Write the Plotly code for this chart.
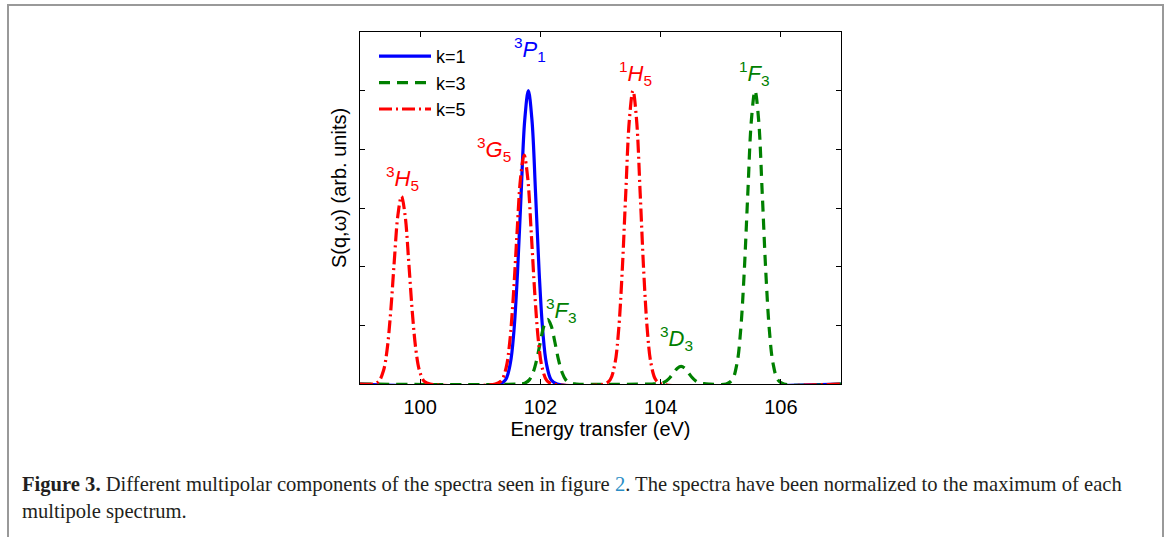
import plotly.graph_objects as go

# ---- data (energy in eV, normalized intensity) ----
k1_x = [99.0, 101.32, 101.42, 101.50, 101.56, 101.62, 101.68, 101.74, 101.80, 101.86, 101.92,
        101.98, 102.04, 102.10, 102.18, 102.28, 107.0]
k1_y = [0, 0, 0.014, 0.07, 0.18, 0.38, 0.65, 0.90, 1.0, 0.90, 0.65,
        0.38, 0.18, 0.07, 0.014, 0, 0]

k3_x = [99.0,
        101.64, 101.74, 101.82, 101.88, 101.94, 102.00, 102.06, 102.12, 102.18, 102.24,
        102.30, 102.36, 102.42, 102.50, 102.60,
        103.86, 103.96, 104.04, 104.10, 104.16, 104.22, 104.28, 104.34, 104.40, 104.46,
        104.52, 104.58, 104.64, 104.72, 104.82,
        105.09, 105.19, 105.27, 105.33, 105.39, 105.45, 105.51, 105.57, 105.63, 105.69,
        105.75, 105.81, 105.87, 105.95, 106.05,
        107.0]
k3_y = [0,
        0, 0.003, 0.015, 0.04, 0.084, 0.144, 0.198, 0.22, 0.198, 0.144,
        0.084, 0.04, 0.015, 0.003, 0,
        0, 0.001, 0.004, 0.011, 0.023, 0.039, 0.054, 0.06, 0.054, 0.039,
        0.023, 0.011, 0.004, 0.001, 0,
        0, 0.014, 0.07, 0.18, 0.38, 0.65, 0.90, 1.0, 0.90, 0.65,
        0.38, 0.18, 0.07, 0.014, 0,
        0]

k5_x = [99.0,
        99.21, 99.31, 99.39, 99.45, 99.51, 99.57, 99.63, 99.69, 99.75, 99.81,
        99.87, 99.93, 99.99, 100.07, 100.17,
        101.25, 101.35, 101.43, 101.49, 101.55, 101.61, 101.67, 101.73, 101.79, 101.85,
        101.91, 101.97, 102.03, 102.11, 102.21,
        103.06, 103.16, 103.24, 103.30, 103.36, 103.42, 103.48, 103.54, 103.60, 103.66,
        103.72, 103.78, 103.84, 103.92, 104.02,
        107.0]
k5_y = [0,
        0, 0.009, 0.045, 0.116, 0.245, 0.418, 0.575, 0.64, 0.575, 0.418,
        0.245, 0.116, 0.045, 0.009, 0,
        0, 0.011, 0.055, 0.142, 0.299, 0.509, 0.701, 0.78, 0.701, 0.509,
        0.299, 0.142, 0.055, 0.011, 0,
        0, 0.014, 0.07, 0.18, 0.38, 0.65, 0.90, 1.0, 0.90, 0.65,
        0.38, 0.18, 0.07, 0.014, 0,
        0]

series_names = ["k=1", "k=3", "k=5"]
series_colors = ["#0000FF", "#008000", "#FF0000"]

x_ticks = [100, 102, 104, 106]
y_ticks = [0, 0.2, 0.4, 0.6, 0.8, 1.0, 1.2]

# peak labels
label_text = ["<sup>3</sup><i>P</i><sub>1</sub>", "<sup>3</sup><i>G</i><sub>5</sub>",
              "<sup>3</sup><i>H</i><sub>5</sub>", "<sup>3</sup><i>F</i><sub>3</sub>",
              "<sup>1</sup><i>H</i><sub>5</sub>", "<sup>3</sup><i>D</i><sub>3</sub>",
              "<sup>1</sup><i>F</i><sub>3</sub>"]
label_x = [101.83, 101.23, 99.71, 102.35, 103.58, 104.27, 105.56]
label_y = [1.14, 0.80, 0.702, 0.252, 1.058, 0.155, 1.058]
label_series = [0, 2, 2, 1, 2, 1, 1]

FONT = "Liberation Sans, Arial, sans-serif"

fig = go.Figure()
dashes = ["solid", "11px,7px", "13px,4px,2px,4px"]
for xs, ys, name, col, dsh in zip([k1_x, k3_x, k5_x], [k1_y, k3_y, k5_y],
                                  series_names, series_colors, dashes):
    fig.add_trace(go.Scatter(x=xs, y=ys, mode="lines", name=name,
                             line=dict(color=col, width=3.2, dash=dsh,
                                       shape="spline", smoothing=1.0)))

for t, x, y, s in zip(label_text, label_x, label_y, label_series):
    fig.add_annotation(x=x, y=y, xref="x", yref="y", text=t, showarrow=False,
                       xanchor="center", yanchor="middle",
                       font=dict(family=FONT, size=22, color=series_colors[s]))

# plot area pixels: x 360..841, y 32..384
W, H = 1170, 537
L, R, T, B = 360, 329, 32, 153
pw, ph = W - L - R, H - T - B

def px(xp):
    return (xp - L) / pw

def py(yp):
    return (H - B - yp) / ph

# y axis title as annotation (positioned like the reference)
fig.add_annotation(x=px(339), y=py(188), xref="paper", yref="paper",
                   xanchor="center", yanchor="middle",
                   text="S(q,ω) (arb. units)", textangle=-90, showarrow=False,
                   font=dict(family=FONT, size=20, color="black"))

# caption
cap_font = dict(family="Liberation Serif, Times New Roman, serif", size=20.6, color="#231f20")
fig.add_annotation(x=px(20), y=py(484), xref="paper", yref="paper", xanchor="left",
                   yanchor="middle", showarrow=False, font=cap_font,
                   text="<b>Figure 3.</b> Different multipolar components of the spectra seen in figure "
                        "<span style='color:#2a8dc5'>2</span>. The spectra have been normalized to the "
                        "maximum of each")
fig.add_annotation(x=px(20), y=py(511), xref="paper", yref="paper", xanchor="left",
                   yanchor="middle", showarrow=False, font=cap_font,
                   text="multipole spectrum.")

# outer frame
fig.add_shape(type="rect", xref="paper", yref="paper",
              x0=px(8), x1=px(1163), y0=py(600), y1=py(5),
              line=dict(color="#999999", width=2), layer="below")

fig.update_layout(
    width=W, height=H, autosize=False,
    margin=dict(l=L, r=R, t=T, b=B, pad=0),
    paper_bgcolor="white", plot_bgcolor="white",
    font=dict(family=FONT, size=20, color="black"),
    showlegend=True,
    legend=dict(x=px(374), y=py(38), xanchor="left", yanchor="top",
                bgcolor="rgba(0,0,0,0)", borderwidth=0,
                font=dict(family=FONT, size=18, color="black"),
                itemwidth=52, tracegroupgap=0),
    xaxis=dict(range=[99, 107], tickvals=x_ticks, ticks="inside", ticklen=5,
               tickcolor="black", showline=True, linecolor="black", linewidth=1,
               mirror="ticks", showgrid=False, zeroline=False,
               tickfont=dict(family=FONT, size=20, color="black"),
               ticklabelstandoff=5,
               title=dict(text="Energy transfer (eV)", standoff=3,
                          font=dict(family=FONT, size=20, color="black"))),
    yaxis=dict(range=[0, 1.2], tickvals=y_ticks, ticks="inside", ticklen=5,
               tickcolor="black", showline=True, linecolor="black", linewidth=1,
               mirror="ticks", showgrid=False, zeroline=False, showticklabels=False),
)

fig.write_html("out.html", config={"displayModeBar": False},
               post_script="document.body.style.margin='0px';")
